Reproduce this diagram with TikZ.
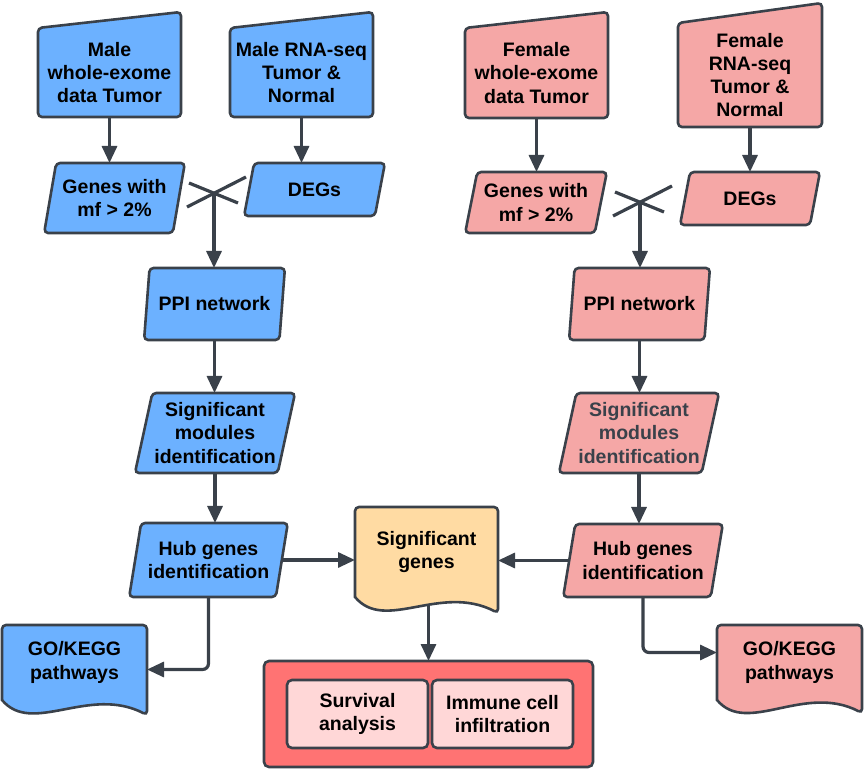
\documentclass[tikz,border=0pt]{standalone}
\usepackage{fontspec}
\setmainfont{Liberation Sans}
\usetikzlibrary{shapes.geometric,arrows.meta,backgrounds}

\definecolor{maleblue}{HTML}{6CB1FF}
\definecolor{femalepink}{HTML}{F5A7A6}
\definecolor{sigyellow}{HTML}{FFDBA3}
\definecolor{resred}{HTML}{FF7373}
\definecolor{respink}{HTML}{FFD7D7}
\definecolor{linecol}{HTML}{3A414A}

\tikzset{
  txt/.style={font=\fontsize{19.5}{23.3}\selectfont\bfseries, align=center, inner sep=2pt, outer sep=0pt},
  para/.style={txt, trapezium, trapezium left angle=75, trapezium right angle=105,
    trapezium stretches=true, draw=linecol, line width=2.6pt, rounded corners=4pt, fill=#1},
  boxed/.style={txt, rectangle, draw=linecol, line width=2.6pt, rounded corners=5pt, fill=#1},
  arr/.style={-{Triangle[length=17pt,width=15pt]}, draw=linecol, line width=3.2pt},
  cross/.style={draw=linecol, line width=3.2pt}
}

% manual input box behind a node: node, rise of top right corner, fill
\newcommand\maninput[3]{%
  \filldraw [fill=#3, draw=linecol, line width=2.6pt, rounded corners=4pt]
    (#1.south west) -- (#1.north west) -- ([yshift=#2pt]#1.north east) -- (#1.south east) -- cycle;}
% document box behind a node: node, drop of bottom right corner, fill
\newcommand\docshape[3]{%
  \filldraw [fill=#3, draw=linecol, line width=2.6pt]
    (#1.south west) [rounded corners=4pt] -- (#1.north west) -- (#1.north east) -- ([yshift=-#2pt]#1.south east)
    [sharp corners] .. controls +(-58,-30) and +(30,36) .. (#1.south west) -- cycle;}

\begin{document}
\begin{tikzpicture}[x=1pt, y=-1pt]
\useasboundingbox (0,0) rectangle (865,770);

% male side
\node [txt, minimum width=143pt, minimum height=89pt] (mwes) at (109.5,72.5) {Male\\whole-exome\\data Tumor};
\node [txt, minimum width=143pt, minimum height=89pt] (mrna) at (301.5,72.5) {Male RNA-seq\\Tumor \&\\Normal};
\node [para=maleblue, minimum width=141pt, minimum height=70pt] (mgen) at (114.5,198) {Genes with\\mf > 2\%};
\node [para=maleblue, minimum width=141pt, minimum height=53pt] (mdeg) at (314.5,189.5) {DEGs};
\coordinate (mx) at (214,193);
\node [para=maleblue, minimum width=141pt, minimum height=72pt] (mppi) at (214.5,304) {PPI network};
\node [para=maleblue, minimum width=156pt, minimum height=80pt] (mmod) at (215,433) {Significant\\modules\\identification};
\node [para=maleblue, minimum width=159pt, minimum height=74pt] (mhub) at (208.5,560) {Hub genes\\identification};
\node [txt, minimum width=145pt, minimum height=75pt] (mgo) at (74.5,662.5) {GO/KEGG\\pathways};

% female side
\node [txt, minimum width=143pt, minimum height=90pt] (fwes) at (536.5,73) {Female\\whole-exome\\data Tumor};
\node [txt, minimum width=144pt, minimum height=104pt] (frna) at (750,75) {Female\\RNA-seq\\Tumor \&\\Normal};
\node [para=femalepink, minimum width=142pt, minimum height=61pt] (fgen) at (536,202.5) {Genes with\\mf > 2\%};
\node [para=femalepink, minimum width=140pt, minimum height=53pt] (fdeg) at (750,198.5) {DEGs};
\coordinate (fx) at (640,202);
\node [para=femalepink, minimum width=141pt, minimum height=72pt] (fppi) at (639.5,304) {PPI network};
\node [para=femalepink, minimum width=158pt, minimum height=80pt, text=linecol] (fmod) at (639,433) {Significant\\modules\\identification};
\node [para=femalepink, minimum width=160pt, minimum height=73pt] (fhub) at (643,560.5) {Hub genes\\identification};
\node [txt, minimum width=145pt, minimum height=75pt] (fgo) at (789.5,662.5) {GO/KEGG\\pathways};

% centre
\node [txt, minimum width=143pt, minimum height=90pt] (sig) at (426.5,552) {Significant\\genes};
\node [boxed=resred, minimum width=329pt, minimum height=106pt] (res) at (428.5,714) {};
\node [boxed=respink, minimum width=141pt, minimum height=68pt] (surv) at (357.5,714) {Survival\\analysis};
\node [boxed=respink, minimum width=141pt, minimum height=68pt] (immu) at (502.5,714) {Immune cell\\infiltration};

\begin{pgfonlayer}{background}
  \maninput{mwes}{16}{maleblue}
  \maninput{mrna}{16}{maleblue}
  \maninput{fwes}{16}{femalepink}
  \maninput{frna}{20}{femalepink}
  \docshape{mgo}{15}{maleblue}
  \docshape{fgo}{13}{femalepink}
  \docshape{sig}{16}{sigyellow}
\end{pgfonlayer}

% connectors
\draw [arr] (mwes.south) -- (mwes.south |- mgen.north);
\draw [arr] (mrna.south) -- (mrna.south |- mdeg.north);
\draw [cross] ([shift={(-25,-10)}]mx) -- ([shift={(24,10)}]mx);
\draw [cross] ([shift={(-27,14)}]mx) -- ([shift={(32,-16)}]mx);
\draw [arr] (mx) -- (mx |- mppi.north);
\draw [arr] (mppi.south) -- (mppi.south |- mmod.north);
\draw [arr] (mmod.south) -- (mmod.south |- mhub.north);
\draw [arr] (mhub.east) -- (mhub.east -| sig.west);
\draw [arr, rounded corners=6pt] (mhub.south) |- ([yshift=-7pt]mgo.east);

\draw [arr] (fwes.south) -- (fwes.south |- fgen.north);
\draw [arr] (frna.south) -- (frna.south |- fdeg.north);
\draw [cross] ([shift={(-25,-10)}]fx) -- ([shift={(24,10)}]fx);
\draw [cross] ([shift={(-27,14)}]fx) -- ([shift={(32,-16)}]fx);
\draw [arr] (fx) -- (fx |- fppi.north);
\draw [arr] (fppi.south) -- (fppi.south |- fmod.north);
\draw [arr] (fmod.south) -- (fmod.south |- fhub.north);
\draw [arr] (fhub.west) -- (fhub.west -| sig.east);
\draw [arr, rounded corners=6pt] (fhub.south) |- ([yshift=10pt]fgo.west);

\draw [arr] ([yshift=-9pt]res.north |- sig.south) -- (res.north);

\end{tikzpicture}
\end{document}
